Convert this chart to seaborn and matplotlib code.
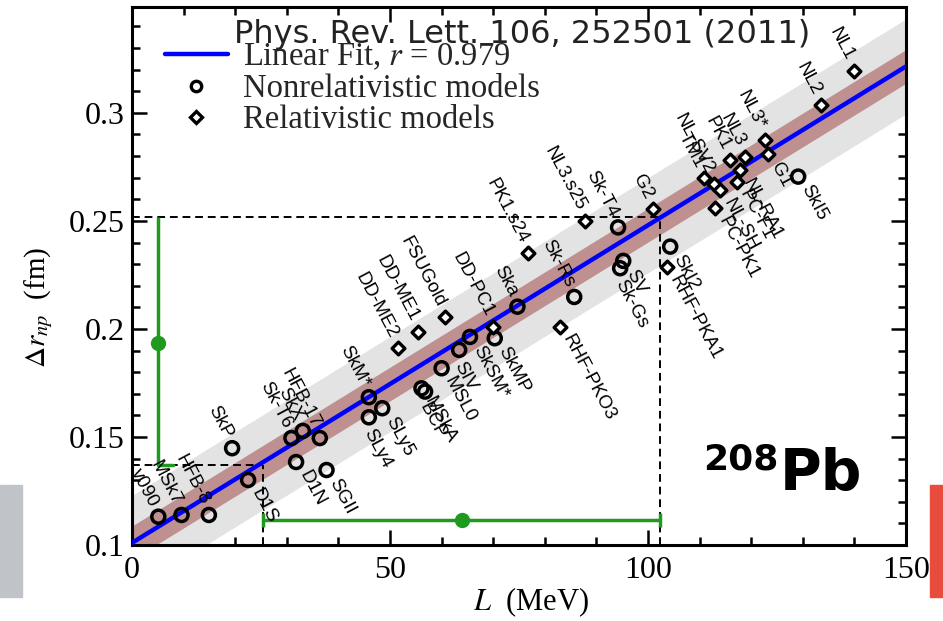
import matplotlib
matplotlib.use("Agg")
import matplotlib.pyplot as plt
import numpy as np
import pandas as pd
import seaborn as sns
from matplotlib.lines import Line2D
from matplotlib.patches import Rectangle
from matplotlib.ticker import MultipleLocator

# --- data ------------------------------------------------------------------
nonrel_names = ["v090", "MSk7", "HFB-8", "SkP", "D1S", "Sk-T6", "SkX", "HFB-17",
                "D1N", "SGII", "SkM*", "SLy5", "SLy4", "MSkA", "BCP", "MSL0",
                "SIV", "SkSM*", "SkMP", "Ska", "Sk-Rs", "Sk-T4", "SV", "Sk-Gs",
                "SkI2", "SkI5"]
nonrel_L = [5.1, 9.6, 14.9, 19.4, 22.5, 30.9, 33.1, 36.4, 31.8, 37.7, 45.9, 48.5,
            45.9, 56.1, 56.8, 60.0, 63.4, 65.5, 70.3, 74.7, 85.7, 94.2, 95.2, 94.6,
            104.3, 129.1]
nonrel_dr = [0.1131, 0.1139, 0.1139, 0.1448, 0.1301, 0.1495, 0.1528, 0.1495,
             0.1384, 0.1347, 0.1684, 0.1633, 0.1591, 0.1725, 0.1710, 0.1818,
             0.1903, 0.1963, 0.1957, 0.2103, 0.2148, 0.2470, 0.2315, 0.2281,
             0.2381, 0.2705]
nonrel_side = ["ul", "ul", "ul", "ul", "lr", "ul", "ul", "ul", "lr", "lr", "ul", "lr",
               "lo", "lr", "lo", "lr", "lo", "lr", "lr", "ul", "ul", "ul", "lr", "lo",
               "lr", "lr"]

rel_names = ["DD-ME2", "DD-ME1", "FSUGold", "DD-PC1", "RHF-PKO3", "PK1.s24",
             "NL3.s25", "G2", "RHF-PKA1", "TM1", "NL-SV2", "NL-SH", "PC-PK1",
             "PC-F1", "NL-RA1", "PK1", "NL3", "NL3*", "G1", "NL2", "NL1"]
rel_L = [51.5, 55.5, 60.7, 70.0, 82.9, 76.8, 87.8, 100.9, 103.6, 110.9, 112.8,
         114.0, 113.0, 117.2, 117.8, 115.9, 118.8, 122.7, 123.3, 133.5, 139.9]
rel_dr = [0.1911, 0.1988, 0.2057, 0.2011, 0.2011, 0.2350, 0.2500, 0.2556, 0.2285,
          0.2698, 0.2669, 0.2644, 0.2559, 0.2682, 0.2736, 0.2780, 0.2798, 0.2875,
          0.2809, 0.3037, 0.3196]
rel_side = ["ul", "ul", "ul", "ul", "lr", "ul", "ul", "ul", "lr", "ul", "ul", "lr",
            "lr", "lr", "lr", "ul", "ul", "ul", "lr", "ul", "ul"]

# linear fit and its two bands
fit_L = [0.0, 150.0]
fit_dr = [0.101, 0.3215]
inner_halfwidth = [0.0078, 0.0078]
outer_halfwidth = [0.022, 0.022]

# constraints (green)
prex_L = 5.0
prex_dr = 0.1935
prex_dr_range = [0.137, 0.252]
L_central = 64.0
L_range = [25.4, 102.3]
L_row_dr = 0.1116

fit_r = 0.979

# label placement relative to the marker, in points
label_offsets = {"ul": ((-3, 8), "right"), "lr": ((5, -7), "left"),
                 "lo": ((-1, -9), "left")}

# --- figure ---------------------------------------------------------------------
sns.set_theme(style="ticks")
plt.rcParams["font.family"] = ["Liberation Serif", "DejaVu Serif"]
plt.rcParams["mathtext.fontset"] = "stix"

fig = plt.figure(figsize=(9.43, 6.21), dpi=100)
fig.patch.set_facecolor("white")
ax = fig.add_axes([132 / 943, 1 - 545 / 621, 774 / 943, 538 / 621])
ax.set_facecolor("white")

fit_L_arr = np.array(fit_L)
fit_dr_arr = np.array(fit_dr)
ax.fill_between(fit_L_arr, fit_dr_arr - np.array(outer_halfwidth),
                fit_dr_arr + np.array(outer_halfwidth), color="#e3e3e3", lw=0, zorder=1)
ax.fill_between(fit_L_arr, fit_dr_arr - np.array(inner_halfwidth),
                fit_dr_arr + np.array(inner_halfwidth), color="#bf9090", lw=0, zorder=2)
sns.lineplot(x=fit_L, y=fit_dr, color="#0000ff", linewidth=3.2, ax=ax, zorder=3)

# dashed guides
dash = dict(color="black", ls=(0, (4, 2.5)), lw=1.4, zorder=2.5)
ax.plot([0, L_range[1]], [prex_dr_range[1]] * 2, **dash)
ax.plot([L_range[1]] * 2, [0.1, prex_dr_range[1]], **dash)
ax.plot([0, L_range[0]], [prex_dr_range[0]] * 2, **dash)
ax.plot([L_range[0]] * 2, [0.1, prex_dr_range[0]], **dash)

# green constraints
green = "#1f9a1f"
ax.errorbar([prex_L], [prex_dr],
            yerr=[[prex_dr - prex_dr_range[0]], [prex_dr_range[1] - prex_dr]],
            fmt="o", color=green, ms=10, elinewidth=2.5, capsize=0, zorder=4)
ax.plot([prex_L, prex_L + 3], [prex_dr_range[0]] * 2, color=green, lw=2.5, zorder=4)
ax.errorbar([L_central], [L_row_dr],
            xerr=[[L_central - L_range[0]], [L_range[1] - L_central]],
            fmt="o", color=green, ms=10, elinewidth=2.5, capsize=5, capthick=2.5,
            zorder=4)

# model points
nonrel = pd.DataFrame({"L": nonrel_L, "dr": nonrel_dr, "name": nonrel_names,
                       "side": nonrel_side})
rel = pd.DataFrame({"L": rel_L, "dr": rel_dr, "name": rel_names, "side": rel_side})

sns.scatterplot(data=nonrel, x="L", y="dr", marker="o", s=88, facecolors="none",
                edgecolor="black", linewidth=2.5, ax=ax, zorder=6)
sns.scatterplot(data=rel, x="L", y="dr", marker="D", s=42, facecolor="white",
                edgecolor="black", linewidth=2.4, ax=ax, zorder=6)

label_font = dict(family=["Liberation Sans", "DejaVu Sans"], size=13.5, color="black")
for df in (nonrel, rel):
    for _, row in df.iterrows():
        offset, ha = label_offsets[row["side"]]
        ax.annotate(row["name"], (row["L"], row["dr"]), xytext=offset,
                    textcoords="offset points", rotation=-62,
                    rotation_mode="anchor", ha=ha, va="center",
                    zorder=7, **label_font)

# axes
ax.set_xlim(0, 150)
ax.set_ylim(0.1, 0.349)
ax.xaxis.set_major_locator(MultipleLocator(50))
ax.xaxis.set_minor_locator(MultipleLocator(10))
ax.yaxis.set_major_locator(MultipleLocator(0.05))
ax.yaxis.set_minor_locator(MultipleLocator(0.01))
ax.set_xticks([0, 50, 100, 150])
ax.set_xticklabels(["0", "50", "100", "150"])
ax.set_yticks([0.1, 0.15, 0.2, 0.25, 0.3])
ax.set_yticklabels(["0.1", "0.15", "0.2", "0.25", "0.3"])
ax.tick_params(which="both", direction="in", top=True, right=True, width=1.8,
               labelsize=23, color="black", labelcolor="black")
ax.tick_params(which="major", length=11)
ax.tick_params(which="minor", length=5.5)
ax.tick_params(axis="x", pad=8)
ax.tick_params(axis="y", pad=5)
for sp in ax.spines.values():
    sp.set_linewidth(2.2)
    sp.set_color("black")

ax.set_xlabel(r"$L$  (MeV)", fontsize=22, color="black")
ax.set_ylabel(r"$\Delta r_{np}$  (fm)", fontsize=21, color="black")
ax.xaxis.set_label_coords(0.515, -0.075)
ax.yaxis.set_label_coords(-0.1, 0.442)

handles = [
    Line2D([], [], color="#0000ff", lw=3.2),
    Line2D([], [], marker="o", ls="", mfc="white", mec="black", mew=2.4, ms=7.5),
    Line2D([], [], marker="D", ls="", mfc="white", mec="black", mew=2.4, ms=6),
]
leg = ax.legend(handles, [rf"Linear Fit, $r$ = {fit_r}", "Nonrelativistic models",
                          "Relativistic models"],
                loc="upper left", bbox_to_anchor=(0.0426, 0.935), frameon=False,
                fontsize=23.5, handlelength=1.93, handletextpad=0.46, labelspacing=0.03,
                borderpad=0, borderaxespad=0)
leg.set_zorder(8)

fig.text(522 / 943, 1 - 35 / 621, "Phys. Rev. Lett. 106, 252501 (2011)",
         ha="center", va="center", fontsize=23, family="DejaVu Sans", color="#222222")
fig.text(778 / 943, 1 - 470 / 621, "208", ha="right", va="baseline", fontsize=26,
         family="DejaVu Sans", weight="bold", color="black")
fig.text(780 / 943, 1 - 490 / 621, "Pb", ha="left", va="baseline", fontsize=41,
         family="DejaVu Sans", weight="bold", color="black")

fig.patches.append(Rectangle((0, 1 - 597 / 621), 22 / 943, 112 / 621,
                             transform=fig.transFigure, color="#c0c4c8", zorder=0))
fig.patches.append(Rectangle((930 / 943, 1 - 597 / 621), 13 / 943, 112 / 621,
                             transform=fig.transFigure, color="#e74c3c", zorder=0))

fig.savefig("out.png", dpi=100)
